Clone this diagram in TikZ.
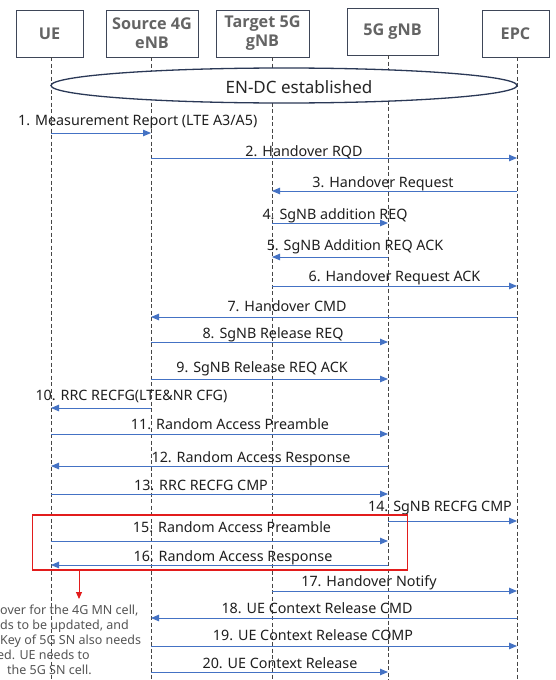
\documentclass[tikz,border=0pt]{standalone}
\usepackage{fontspec}
\setmainfont{Noto Sans}
\newfontfamily\hdrfont{Open Sans}
\usetikzlibrary{arrows.meta,shapes.geometric}

\definecolor{msgblue}{RGB}{68,114,196}
\definecolor{hdrtext}{RGB}{100,100,100}
\definecolor{boxline}{RGB}{62,70,88}
\definecolor{lifegray}{RGB}{70,70,70}
\definecolor{notegray}{RGB}{85,85,85}
\definecolor{hlred}{RGB}{226,28,28}
\definecolor{ellline}{RGB}{42,56,86}

% one message: index, from, to, arrow y, label x, label baseline y, text
\newcommand{\seqmsg}[7]{%
  \draw[msg] (#2 |- 0,#4) -- (#3 |- 0,#4);
  \node[lbl] (lbl-#1) at (#5,#6) {#7};}

\begin{document}
\begin{tikzpicture}[x=1pt,y=-1pt,
  hdr/.style={draw=boxline, line width=1pt, fill=white, align=center,
    font=\hdrfont\bfseries\fontsize{16.2}{19}\selectfont, text=hdrtext, inner sep=0pt,
    minimum height=47pt},
  life/.style={draw=lifegray, line width=0.8pt, dash pattern=on 4pt off 2.5pt},
  msg/.style={draw=msgblue, line width=0.9pt, -{Triangle[length=8pt,width=6.5pt]}},
  lbl/.style={anchor=base, inner sep=0pt, font=\fontsize{14.3}{17}\selectfont, text=black!88},
  hlbox/.style={draw=hlred, line width=1.8pt, inner sep=0pt},
  hlarrow/.style={draw=hlred, line width=0.9pt, -{Triangle[length=7pt,width=6pt]}},
  note/.style={align=left, inner sep=0pt, text=notegray,
    font=\fontsize{12.5}{15}\selectfont}
]
\useasboundingbox (0,0) rectangle (555,680);
\clip (0,0) rectangle (555,680);
\fill[white] (0,0) rectangle (555,680);

% participants
\node[hdr, minimum width=67pt] (ue)  at (49.5,33.5) {UE};
\node[hdr, minimum width=92pt] (src) at (152,33.5)  {Source 4G\\eNB};
\node[hdr, minimum width=93pt] (tgt) at (262.5,33.5) {Target 5G\\gNB};
\node[hdr, minimum width=91pt] (gnb) at (392.5,31.5) {5G gNB};
\node[hdr, minimum width=67pt] (epc) at (515.5,33.5) {EPC};

% lifelines
\coordinate (L-ue)  at (51,57);
\coordinate (L-src) at (151,57);
\coordinate (L-tgt) at (272,57);
\coordinate (L-gnb) at (388,55);
\coordinate (L-epc) at (517,57);
\coordinate (E-ue)  at (51,680);
\coordinate (E-src) at (151,680);
\coordinate (E-tgt) at (272,680);
\coordinate (E-gnb) at (388,680);
\coordinate (E-epc) at (517,680);
\foreach \p in {ue,src,tgt,gnb,epc}
  \draw[life] (L-\p) -- (E-\p);

% dual connectivity state
\node[draw=ellline, line width=1.3pt, fill=white, ellipse, inner sep=0pt,
  minimum width=466pt, minimum height=35pt] (endc) at (284,85.5) {};
\node[anchor=base, inner sep=0pt, font=\fontsize{17}{20}\selectfont, text=black!85]
  (endc-txt) at (299,93) {EN-DC established};

% message sequence
\draw[msg] (L-ue |- 0,133) -- (L-src |- 0,133);
\node[lbl, anchor=base west] (lbl-1) at (18,125) {1. Measurement Report (LTE A3/A5)};
\seqmsg{2}{L-src}{L-epc}{158}{304}{156}{2. Handover RQD}
\seqmsg{3}{L-epc}{L-tgt}{191}{383}{187.5}{3. Handover Request}
\seqmsg{4}{L-tgt}{L-gnb}{223}{335}{219}{4. SgNB addition REQ}
\seqmsg{5}{L-gnb}{L-tgt}{257}{355}{250.5}{5. SgNB Addition REQ ACK}
\seqmsg{6}{L-tgt}{L-epc}{286}{394.5}{281.5}{6. Handover Request ACK}
\seqmsg{7}{L-epc}{L-src}{317}{287}{311}{7. Handover CMD}
\seqmsg{8}{L-src}{L-gnb}{342}{273}{338}{8. SgNB Release REQ}
\seqmsg{9}{L-src}{L-gnb}{379}{262}{372}{9. SgNB Release REQ ACK}
\seqmsg{10}{L-src}{L-ue}{408}{131.5}{400.5}{10. RRC RECFG(LTE\&NR CFG)}
\seqmsg{11}{L-ue}{L-gnb}{434}{230}{429}{11. Random Access Preamble}
\seqmsg{12}{L-gnb}{L-ue}{466}{251}{462.5}{12. Random Access Response}
\seqmsg{13}{L-ue}{L-gnb}{494}{201}{490}{13. RRC RECFG CMP}
\seqmsg{14}{L-gnb}{L-epc}{521}{440}{511.5}{14. SgNB RECFG CMP}
\seqmsg{15}{L-ue}{L-gnb}{541}{232}{532}{15. Random Access Preamble}
\seqmsg{16}{L-gnb}{L-ue}{565}{233}{561.5}{16. Random Access Response}
\seqmsg{17}{L-tgt}{L-epc}{591}{369}{586.5}{17. Handover Notify}
\seqmsg{18}{L-epc}{L-src}{618}{317}{613}{18. UE Context Release CMD}
\seqmsg{19}{L-src}{L-epc}{646}{313}{640.5}{19. UE Context Release COMP}
\seqmsg{20}{L-src}{L-gnb}{672}{280}{668}{20. UE Context Release}

% highlighted random access exchange and its remark
\node[hlbox, minimum width=375pt, minimum height=55pt] (hl) at (220,542.5) {};
\coordinate (hl-tip) at (79,599);
\draw[hlarrow] (hl.south -| hl-tip) -- (hl-tip);
\node[note, anchor=north west] (note) at (0,604.5)
  {over for the 4G MN cell,\\
   ds to be updated, and\\
   Key of 5G SN also needs\\
   \hspace*{-3pt}ed. UE needs to\\
   \hspace*{7pt}the 5G SN cell.};
\end{tikzpicture}
\end{document}
